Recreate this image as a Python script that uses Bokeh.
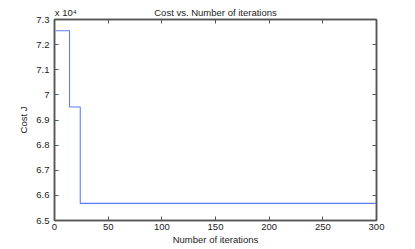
from bokeh.plotting import figure
from bokeh.models import LinearAxis, FixedTicker, Range1d
from bokeh.embed import file_html
from bokeh.resources import INLINE

# Data: step-wise cost over iterations (change points and levels)
iters = [1, 14, 24, 300]
cost = [72550, 69520, 65680, 65680]

x_ticks = [0, 50, 100, 150, 200, 250, 300]
y_ticks = [65000, 66000, 67000, 68000, 69000, 70000, 71000, 72000, 73000]
y_tick_labels = ["6.5", "6.6", "6.7", "6.8", "6.9", "7", "7.1", "7.2", "7.3"]

title_text = "Cost vs. Number of iterations"
exponent_text = "x 10\u2074"
x_label = "Number of iterations"
y_label = "Cost J"

FONT = "Liberation Sans"
FS = "9.5px"
AX = "#555555"
TXT = "#222222"

p = figure(width=415, height=249, output_backend="svg", toolbar_location=None,
           x_range=Range1d(0, 300), y_range=Range1d(65000, 73000),
           min_border_left=54, min_border_right=39, min_border_top=19, min_border_bottom=29)
p.xgrid.visible = False
p.ygrid.visible = False
p.outline_line_color = AX
p.outline_line_width = 1.5
p.background_fill_color = "white"
p.border_fill_color = "white"

p.step(iters, cost, mode="after", line_color="#5f7cf2", line_width=1.1)

def style(ax):
    ax.axis_line_color = AX
    ax.axis_line_width = 1.5
    ax.major_tick_in = 4
    ax.major_tick_out = 0
    ax.minor_tick_in = 0
    ax.minor_tick_out = 0
    ax.major_tick_line_color = AX
    ax.major_label_text_font = FONT
    ax.major_label_text_font_size = FS
    ax.major_label_text_color = TXT
    ax.major_label_standoff = 3
    ax.axis_label_text_font = FONT
    ax.axis_label_text_font_size = FS
    ax.axis_label_text_font_style = "normal"
    ax.axis_label_text_color = TXT

xa = p.xaxis[0]
xa.ticker = FixedTicker(ticks=x_ticks)
style(xa)
xa.axis_label = x_label
xa.axis_label_standoff = 1

ya = p.yaxis[0]
ya.ticker = FixedTicker(ticks=y_ticks)
ya.major_label_overrides = {t: l for t, l in zip(y_ticks, y_tick_labels)}
style(ya)
ya.major_label_standoff = 5
ya.axis_label = y_label
ya.axis_label_standoff = 4

# top axis: tick marks only
top = LinearAxis(ticker=FixedTicker(ticks=x_ticks))
style(top)
top.major_label_overrides = {t: "" for t in x_ticks}
top.major_label_standoff = 0
p.add_layout(top, "above")

# top text row: exponent marker and title
top_text = LinearAxis(ticker=FixedTicker(ticks=[10.5, 150]))
style(top_text)
top_text.axis_line_color = None
top_text.major_tick_in = 0
top_text.major_tick_line_color = None
top_text.major_label_overrides = {10.5: exponent_text, 150: title_text}
top_text.major_label_standoff = 2
p.add_layout(top_text, "above")

# right axis: tick marks only
right = LinearAxis(ticker=FixedTicker(ticks=y_ticks))
style(right)
right.major_label_overrides = {t: "" for t in y_ticks}
right.major_label_standoff = 0
p.add_layout(right, "right")

open("out.html", "w").write(file_html(p, INLINE))
